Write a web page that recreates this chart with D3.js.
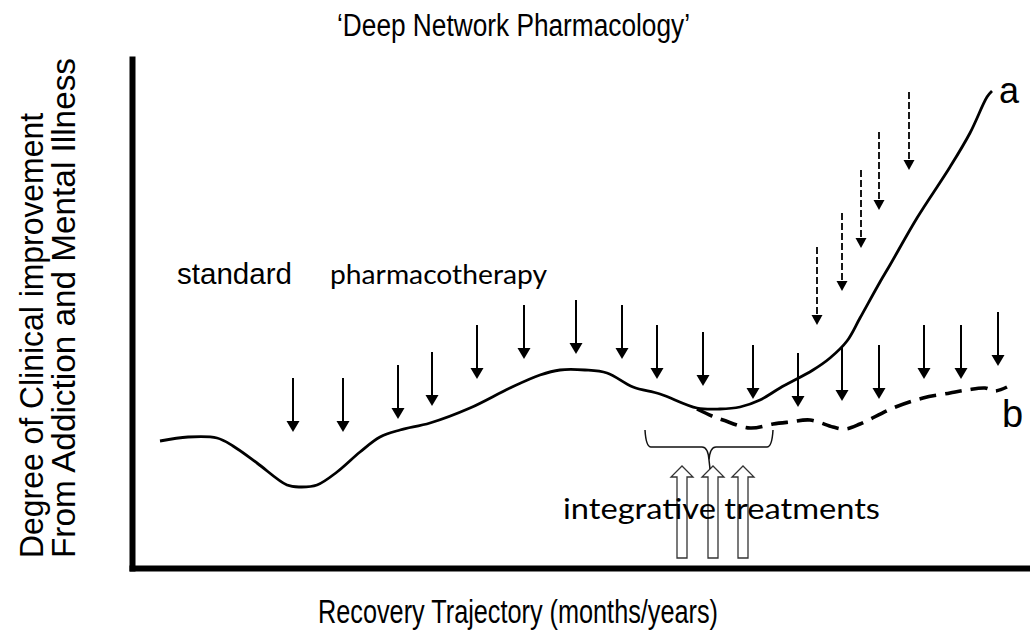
<!DOCTYPE html>
<html><head><meta charset="utf-8">
<script src="https://cdn.jsdelivr.net/npm/d3@7"></script>
<style>body{margin:0;background:#fff} svg{display:block}</style>
</head><body>
<svg id="chart" width="1030" height="641"></svg>
<script>
// ---- data (conceptual units: time 0..90, improvement 0..50.9) ----
const curveAX = [2.8,5.6,8.5,10.1,12.5,15.5,16.8,18.5,20.5,22.8,24.8,26.8,29.8,33.8,37.8,40.8,42.8,45.3,47.5,50.1,52.8,56.5,58.8,60.8,62.8,64.8,68.1,69.8,71.5,72.8,74.8,75.8,78.5,81.8,83.8,85.5,86.0];
const curveAY = [12.7,13.1,13.0,12.2,10.5,8.3,8.1,8.3,9.6,11.6,13.1,13.8,14.5,16.0,18.0,19.3,19.8,19.8,19.5,18.1,17.4,16.0,15.9,16.1,16.8,18.0,19.8,21.0,22.7,25.0,28.6,30.3,35.0,40.1,43.5,47.1,47.7];
const curveBX = [56.5,58.0,59.1,61.8,64.1,65.8,67.8,70.1,71.3,72.8,76.1,79.1,81.8,83.5,85.3,86.3,87.5];
const curveBY = [15.9,15.2,14.8,14.0,14.4,14.6,14.8,14.1,13.9,14.4,16.0,17.0,17.5,17.8,18.0,17.7,18.1];
const pharmArrowX   = [16.1,21.1,26.6,30.0,34.5,39.2,44.4,49.0,52.5,57.1,62.1,66.6,71.0,74.7,79.2,82.9,86.6];
const pharmArrowTop = [19.0,19.0,20.3,21.6,24.3,26.3,26.8,26.3,24.3,23.6,22.3,21.5,22.1,22.3,24.3,24.3,25.6];
const pharmArrowLen = 5.4;
const deepArrowX   = [68.5,71.0,72.9,74.7,77.7];
const deepArrowTop = [32.1,35.5,39.8,43.6,47.6];
const deepArrowLen = 7.8;
const integArrowX = [55.0,58.1,61.1];
const integArrowTip = 10.2;
const integArrowBase = 1.0;
const braceX = [51.3, 64.1];
const braceLevels = [13.8, 12.1, 10.8, 9.9]; // ends, bar, point, stem end

const svg = d3.select('#chart');
const x = d3.scaleLinear().domain([0, 90]).range([132, 1032]);
const y = d3.scaleLinear().domain([0, 50.9]).range([568, 59]);

// axes (no ticks)
const gx = svg.append('g').attr('transform', `translate(0,${y(0)})`)
  .call(d3.axisBottom(x).tickValues([]).tickSizeOuter(0));
const gy = svg.append('g').attr('transform', `translate(${x(0)},0)`)
  .call(d3.axisLeft(y).tickValues([]).tickSizeOuter(0));
[gx, gy].forEach(g => g.select('.domain').attr('stroke', '#000').attr('stroke-width', 6).attr('stroke-linecap', 'square'));

const line = d3.line().x(d => x(d[0])).y(d => y(d[1])).curve(d3.curveCatmullRom.alpha(0.5));

// curve b (dashed)
svg.append('path').datum(curveBX.map((v, i) => [v, curveBY[i]]))
  .attr('d', line).attr('fill', 'none').attr('stroke', '#000')
  .attr('stroke-width', 3.6).attr('stroke-dasharray', '17,9');
// curve a (solid)
svg.append('path').datum(curveAX.map((v, i) => [v, curveAY[i]]))
  .attr('d', line).attr('fill', 'none').attr('stroke', '#000')
  .attr('stroke-width', 2.8).attr('stroke-linejoin', 'round');

// down arrows
function downArrow(g, xv, top, len, head, hw, dash, sw) {
  const px = x(xv), y0 = y(top), y1 = y(top - len);
  g.append('line').attr('x1', px).attr('x2', px).attr('y1', y0).attr('y2', y1 - head + 1)
    .attr('stroke', '#000').attr('stroke-width', sw).attr('stroke-dasharray', dash);
  g.append('path').attr('d', `M${px - hw},${y1 - head}L${px + hw},${y1 - head}L${px},${y1}Z`).attr('fill', '#000');
}
const gp = svg.append('g');
pharmArrowX.forEach((v, i) => downArrow(gp, v, pharmArrowTop[i], pharmArrowLen, 11, 6.5, null, 2));
const gd = svg.append('g');
deepArrowX.forEach((v, i) => downArrow(gd, v, deepArrowTop[i], deepArrowLen, 10, 5.5, '7,3', 1.8));

// hollow up arrows
const gi = svg.append('g');
integArrowX.forEach(v => {
  const cx = x(v), t = y(integArrowTip), b = y(integArrowBase);
  const sw = 5, hw = 11, hh = 11;
  gi.append('path')
    .attr('d', `M${cx - sw},${b}L${cx - sw},${t + hh}L${cx - hw},${t + hh}L${cx},${t}L${cx + hw},${t + hh}L${cx + sw},${t + hh}L${cx + sw},${b}Z`)
    .attr('fill', 'none').attr('stroke', '#333').attr('stroke-width', 1.3);
});

// brace
{
  const xl = x(braceX[0]), xr = x(braceX[1]), xc = (xl + xr) / 2;
  const yE = y(braceLevels[0]), yB = y(braceLevels[1]), yP = y(braceLevels[2]), yS = y(braceLevels[3]);
  svg.append('path')
    .attr('d', `M${xl},${yE}Q${xl + 1},${yB} ${xl + 6},${yB}H${xc - 7}Q${xc - 1},${yB} ${xc},${yP}Q${xc + 1},${yB} ${xc + 7},${yB}H${xr - 6}Q${xr - 1},${yB} ${xr},${yE}M${xc},${yP}L${xc + 1},${yS}`)
    .attr('fill', 'none').attr('stroke', '#111').attr('stroke-width', 1.5);
}

// texts
const T = (txt, px, py, size, family, len, extra) => {
  const t = svg.append('text').attr('x', px).attr('y', py).text(txt)
    .attr('font-size', size).attr('font-family', family).attr('fill', '#000');
  if (len) t.attr('textLength', len).attr('lengthAdjust', 'spacingAndGlyphs');
  if (extra) extra(t);
  return t;
};
const SANS = '"Liberation Sans", Arial, sans-serif';
const CAL = 'Lato, "Open Sans", sans-serif';
T('\u2018Deep Network Pharmacology\u2019', 337, 36, 31, SANS, 353);
T('Recovery Trajectory (months/years)', 318, 623, 33, SANS, 400);
T('Degree of Clinical improvement', 0, 0, 33, SANS, 445, t => t.attr('transform', 'translate(43,558) rotate(-90)'));
T('From Addiction and Mental Illness', 0, 0, 33, SANS, 500, t => t.attr('transform', 'translate(75,558) rotate(-90)'));
T('standard', 177, 284, 29, SANS, 115);
T('pharmacotherapy', 330, 284, 27, CAL, 217);
T('integrative treatments', 563, 519, 29, CAL, 317);
T('a', 999, 103, 36, SANS);
T('b', 1002, 427, 38, SANS);
</script>
</body></html>
